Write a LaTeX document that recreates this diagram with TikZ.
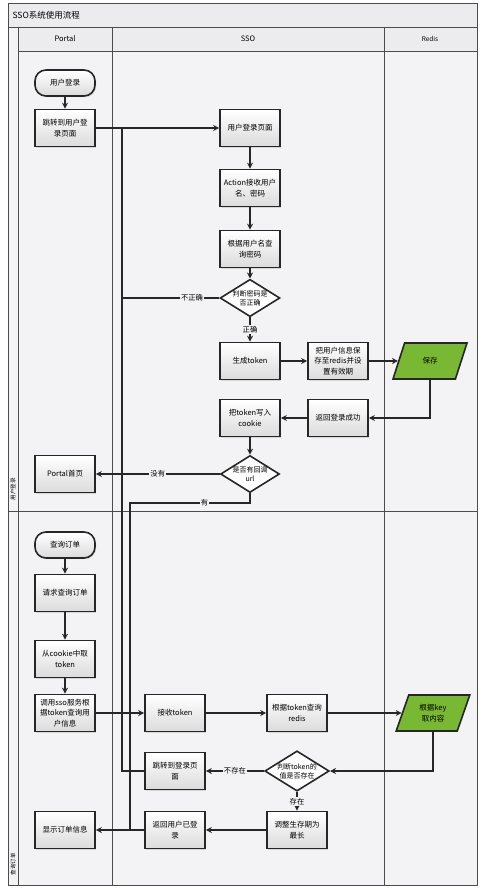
\documentclass[tikz,border=0pt]{standalone}
\usepackage{fontspec}
\setmainfont{Noto Sans CJK SC}
\usetikzlibrary{arrows.meta,shapes.geometric,shadows}
\definecolor{lanebg}{HTML}{F3F3F6}
\definecolor{headbg}{HTML}{ECECEF}
\definecolor{savegreen}{HTML}{78B832}
\definecolor{ink}{HTML}{262626}
\begin{document}
\begin{tikzpicture}[x=1pt,y=-1pt,
  lane/.style={draw=gray!60!black, line width=0.7pt},
  boxtext/.style={font=\fontsize{7.5}{10.5}\selectfont},
  proc/.style={boxtext, draw=ink, line width=1.6pt, top color=white, bottom color=gray!28,
    minimum width=60pt, minimum height=37pt, text width=57pt, align=center, inner sep=1.5pt,
    drop shadow={opacity=0.25, shadow xshift=1.2pt, shadow yshift=-1.2pt}},
  startnode/.style={proc, rounded corners=11pt, minimum height=26pt},
  dec/.style={diamond, draw=ink, line width=1.6pt, fill=white, minimum width=58pt,
    minimum height=37pt, aspect=1.6, inner sep=0pt, align=center,
    font=\fontsize{7}{9}\selectfont},
  io/.style={trapezium, trapezium left angle=70, trapezium right angle=110,
    trapezium stretches=true, draw=ink, line width=1.6pt, fill=savegreen,
    minimum width=74pt, minimum height=36pt, align=center, boxtext},
  flow/.style={draw=ink, line width=1.6pt, -{Stealth[length=6pt,width=6pt]}},
  conn/.style={draw=ink, line width=1.6pt},
  lbl/.style={fill=lanebg, inner sep=1pt, font=\fontsize{7.3}{8}\selectfont},
  jumpdot/.style={fill=ink}
]
\useasboundingbox (0,0) rectangle (483,890);
% swimlane frame
\fill[white] (0,0) rectangle (483,890);
\fill[lanebg] (8,3) rectangle (477,885);
\fill[headbg] (8,3) rectangle (477,27);
\fill[headbg] (18,27) rectangle (477,51);
\draw[lane] (8,3) rectangle (477,885);
\draw[lane] (8,27) -- (477,27);
\draw[lane] (18,51) -- (477,51);
\draw[lane] (18,27) -- (18,885);
\draw[lane] (112,27) -- (112,885);
\draw[lane] (384,27) -- (384,885);
\draw[lane] (8,511) -- (477,511);

\node[anchor=west, font=\fontsize{8.5}{10}\selectfont] (title) at (9,15) {SSO系统使用流程};
\node[font=\fontsize{7.5}{9}\selectfont] (hportal) at (65,39) {Portal};
\node[font=\fontsize{7.5}{9}\selectfont] (hsso) at (248,39) {SSO};
\node[font=\fontsize{6.5}{8}\selectfont] (hredis) at (430,39) {Redis};
\node[rotate=90, font=\fontsize{5.5}{6}\selectfont] (row1) at (13,489) {用户登录};
\node[rotate=90, font=\fontsize{5.5}{6}\selectfont] (row2) at (13,864) {查询订单};

% ---- user login section
\node[startnode] (start1) at (65,83) {用户登录};
\node[proc] (jump1) at (65,128) {跳转到用户登\\录页面};
\node[proc] (login) at (250,128) {用户登录页面};
\node[proc] (action) at (250,188) {Action接收用户\\名、密码};
\node[proc] (qpwd) at (250,249) {根据用户名查\\询密码};
\node[dec] (d1) at (250,298) {判断密码是\\否正确};
\node[proc] (gen) at (250,361) {生成token};
\node[proc] (saveinfo) at (338,361) {把用户信息保\\存至redis并设\\置有效期};
\node[io] (save) at (430,361) {保存};
\node[proc] (ret) at (338,418) {返回登录成功};
\node[proc] (cookie) at (250,418) {把token写入\\cookie};
\node[dec] (d2) at (250,474) {是否有回调\\url};
\node[proc] (home) at (65,474) {Portal首页};

% ---- order query section
\node[startnode] (start2) at (65,545) {查询订单};
\node[proc] (req) at (65,593) {请求查询订单};
\node[proc] (getck) at (65,659) {从cookie中取\\token};
\node[proc] (call) at (65,713) {调用sso服务根\\据token查询用\\户信息};
\node[proc] (recv) at (175,713) {接收token};
\node[proc] (qredis) at (297,713) {根据token查询\\redis};
\node[io] (getkey) at (433,713) {根据key\\取内容};
\node[dec] (d3) at (297,771) {判断token的\\值是否存在};
\node[proc] (jlogin) at (175,771) {跳转到登录页\\面};
\node[proc] (adjust) at (297,830) {调整生存期为\\最长};
\node[proc] (retok) at (175,830) {返回用户已登\\录};
\node[proc] (show) at (65,830) {显示订单信息};

\coordinate (c1t) at (122,128);
\coordinate (c1b) at (122,771);
\coordinate (c2t) at (130,503);
\coordinate (c2b) at (130,830);

% connectors
\draw[flow] (start1) -- (jump1);
\draw[flow] (jump1) -- (login);
\draw[flow] (login) -- (action);
\draw[flow] (action) -- (qpwd);
\draw[flow] (qpwd) -- (d1);
\draw[flow] (d1) -- node[lbl] {正确} (gen);
\draw[flow] (gen) -- (saveinfo);
\draw[flow] (saveinfo) -- (save);
\draw[flow] (save.south) |- (ret.east);
\draw[flow] (ret) -- (cookie);
\draw[flow] (cookie) -- (d2);
\draw[flow] (d2) -- node[lbl] {没有} (home);
\draw[conn] (jlogin.west) -- (c1b) -- (c1t);
\draw[conn] (d1.west) -- node[lbl, pos=0.28] {不正确} (d1.west -| c1t);
\draw[conn] (d2.south) |- node[lbl, pos=0.69] {有} (c2t) -- (c2b);

\draw[flow] (start2) -- (req);
\draw[flow] (req) -- (getck);
\draw[flow] (getck) -- (call);
\draw[flow] (call) -- (recv);
\draw[flow] (recv) -- (qredis);
\draw[flow] (qredis) -- (getkey);
\draw[flow] (getkey.south) |- (d3.east);
\draw[flow] (d3) -- node[lbl] {不存在} (jlogin);
\draw[flow] (d3) -- node[lbl] {存在} (adjust);
\draw[flow] (adjust) -- (retok);
\draw[flow] (retok) -- (show);

% crossing markers
\fill[jumpdot] (122,474) circle (1.6);
\fill[jumpdot] (122,713) circle (1.6);
\fill[jumpdot] (130,713) circle (1.6);
\fill[jumpdot] (130,771) circle (1.6);
\end{tikzpicture}
\end{document}
